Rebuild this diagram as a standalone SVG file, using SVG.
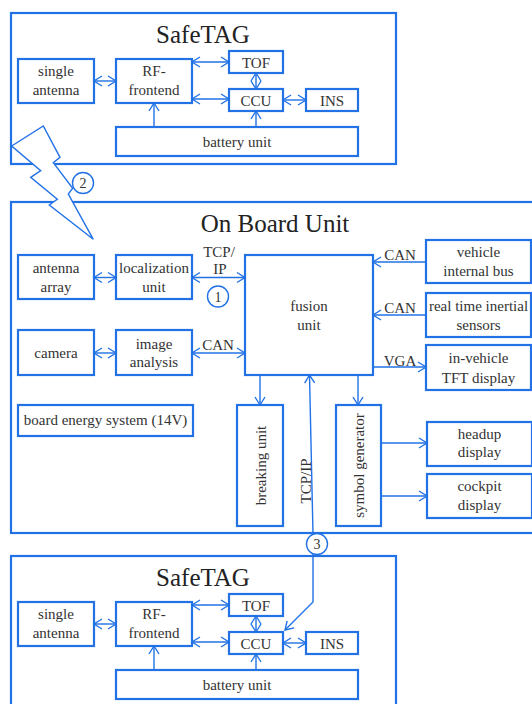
<svg xmlns="http://www.w3.org/2000/svg" width="532" height="704" viewBox="0 0 532 704" font-family="'Liberation Serif', 'Times New Roman', serif">
<style>
.outer{fill:#fff;stroke:#2272e6;stroke-width:2.2}
.box{fill:#fff;stroke:#2272e6;stroke-width:2.2}
.ln{fill:none;stroke:#2272e6;stroke-width:1.4}
text{font-family:'Liberation Serif','Times New Roman',serif;fill:#333;font-size:15px;text-anchor:middle}
.title{font-size:25px;fill:#222}
.num{font-size:14px}
.circ{fill:#fff;stroke:#2272e6;stroke-width:1.4}
</style>
<defs>
<marker id="ah" viewBox="-2 -7 12 14" refX="8" refY="0" markerWidth="12" markerHeight="14" markerUnits="userSpaceOnUse" orient="auto-start-reverse">
<path d="M0,-5 L8,0 L0,5" fill="none" stroke="#2272e6" stroke-width="1.4"/>
</marker>
</defs>

<g id="safetag-top">
<rect class="outer" x="11" y="13" width="385" height="151"/>
<text class="title" x="203" y="43">SafeTAG</text>
<g id="t-single-antenna"><rect class="box" x="18" y="59" width="76" height="44"/>
<text x="56" y="76">single</text><text x="56" y="95">antenna</text></g>
<g id="t-rf-frontend"><rect class="box" x="116" y="59" width="76" height="44"/>
<text x="154" y="76">RF-</text><text x="154" y="95">frontend</text></g>
<g id="t-tof"><rect class="box" x="229" y="51" width="54" height="22"/>
<text x="256" y="68">TOF</text></g>
<g id="t-ccu"><rect class="box" x="229" y="89" width="54" height="22"/>
<text x="256" y="106">CCU</text></g>
<g id="t-ins"><rect class="box" x="306" y="89" width="52" height="22"/>
<text x="332" y="106">INS</text></g>
<g id="t-battery"><rect class="box" x="116" y="127" width="242" height="29"/>
<text x="237" y="147">battery unit</text></g>
<g id="t-connectors">
<line class="ln" x1="94" y1="81" x2="116" y2="81" marker-start="url(#ah)" marker-end="url(#ah)"/>
<line class="ln" x1="192" y1="62" x2="229" y2="62" marker-start="url(#ah)" marker-end="url(#ah)"/>
<line class="ln" x1="192" y1="99" x2="229" y2="99" marker-start="url(#ah)" marker-end="url(#ah)"/>
<line class="ln" x1="256" y1="73" x2="256" y2="89" marker-start="url(#ah)" marker-end="url(#ah)"/>
<line class="ln" x1="283" y1="100" x2="306" y2="100" marker-start="url(#ah)" marker-end="url(#ah)"/>
<line class="ln" x1="154" y1="127" x2="154" y2="103" marker-end="url(#ah)"/>
<line class="ln" x1="256" y1="127" x2="256" y2="111" marker-end="url(#ah)"/>
</g>
</g>

<g id="safetag-bottom" transform="translate(0,543)">
<rect class="outer" x="11" y="13" width="385" height="151"/>
<text class="title" x="203" y="43">SafeTAG</text>
<g id="b-single-antenna"><rect class="box" x="18" y="59" width="76" height="44"/>
<text x="56" y="76">single</text><text x="56" y="95">antenna</text></g>
<g id="b-rf-frontend"><rect class="box" x="116" y="59" width="76" height="44"/>
<text x="154" y="76">RF-</text><text x="154" y="95">frontend</text></g>
<g id="b-tof"><rect class="box" x="229" y="51" width="54" height="22"/>
<text x="256" y="68">TOF</text></g>
<g id="b-ccu"><rect class="box" x="229" y="89" width="54" height="22"/>
<text x="256" y="106">CCU</text></g>
<g id="b-ins"><rect class="box" x="306" y="89" width="52" height="22"/>
<text x="332" y="106">INS</text></g>
<g id="b-battery"><rect class="box" x="116" y="127" width="242" height="29"/>
<text x="237" y="147">battery unit</text></g>
<g id="b-connectors">
<line class="ln" x1="94" y1="81" x2="116" y2="81" marker-start="url(#ah)" marker-end="url(#ah)"/>
<line class="ln" x1="192" y1="62" x2="229" y2="62" marker-start="url(#ah)" marker-end="url(#ah)"/>
<line class="ln" x1="192" y1="99" x2="229" y2="99" marker-start="url(#ah)" marker-end="url(#ah)"/>
<line class="ln" x1="256" y1="73" x2="256" y2="89" marker-start="url(#ah)" marker-end="url(#ah)"/>
<line class="ln" x1="283" y1="100" x2="306" y2="100" marker-start="url(#ah)" marker-end="url(#ah)"/>
<line class="ln" x1="154" y1="127" x2="154" y2="103" marker-end="url(#ah)"/>
<line class="ln" x1="256" y1="127" x2="256" y2="111" marker-end="url(#ah)"/>
</g>
</g>

<g id="obu">
<rect class="outer" x="11" y="202" width="532" height="331"/>
<text class="title" x="275" y="232">On Board Unit</text>
</g>
<g id="antenna-array"><rect class="box" x="18" y="255" width="76" height="44"/>
<text x="56" y="272.5">antenna</text><text x="56" y="291.5">array</text></g>
<g id="localization-unit"><rect class="box" x="116" y="255" width="76" height="44"/>
<text x="154" y="272.5">localization</text><text x="154" y="291.5">unit</text></g>
<g id="camera"><rect class="box" x="18" y="330" width="76" height="45"/>
<text x="56" y="358">camera</text></g>
<g id="image-analysis"><rect class="box" x="116" y="330" width="76" height="45"/>
<text x="154" y="348.5">image</text><text x="154" y="367">analysis</text></g>
<g id="fusion-unit"><rect class="box" x="245" y="255" width="128" height="120"/>
<text x="309" y="311">fusion</text><text x="309" y="330">unit</text></g>
<g id="vehicle-bus"><rect class="box" x="426" y="240" width="105" height="43"/>
<text x="478.5" y="257">vehicle</text><text x="478.5" y="276">internal bus</text></g>
<g id="inertial-sensors"><rect class="box" x="426" y="293" width="105" height="44"/>
<text x="478.5" y="310.5">real time inertial</text><text x="478.5" y="329.5">sensors</text></g>
<g id="tft-display"><rect class="box" x="426" y="345" width="105" height="45"/>
<text x="478.5" y="363">in-vehicle</text><text x="478.5" y="382.5">TFT display</text></g>
<g id="board-energy"><rect class="box" x="18" y="405" width="175" height="31"/>
<text x="105.5" y="425">board energy system (14V)</text></g>
<g id="breaking-unit"><rect class="box" x="237" y="405" width="46" height="121"/>
<text transform="translate(260,465.5) rotate(-90)" x="0" y="5.5">breaking unit</text></g>
<g id="symbol-generator"><rect class="box" x="336" y="405" width="45" height="121"/>
<text transform="translate(358.5,465.5) rotate(-90)" x="0" y="5.5">symbol generator</text></g>
<g id="headup-display"><rect class="box" x="427" y="422" width="105" height="44"/>
<text x="479.5" y="438.5">headup</text><text x="479.5" y="457">display</text></g>
<g id="cockpit-display"><rect class="box" x="427" y="474" width="105" height="44"/>
<text x="479.5" y="491">cockpit</text><text x="479.5" y="510">display</text></g>

<g id="connectors">
<line class="ln" x1="94" y1="277.5" x2="116" y2="277.5" marker-start="url(#ah)" marker-end="url(#ah)"/>
<line class="ln" x1="192" y1="277.5" x2="245" y2="277.5" marker-start="url(#ah)" marker-end="url(#ah)"/>
<line class="ln" x1="94" y1="353" x2="116" y2="353" marker-start="url(#ah)" marker-end="url(#ah)"/>
<line class="ln" x1="192" y1="353" x2="245" y2="353" marker-start="url(#ah)" marker-end="url(#ah)"/>
<line class="ln" x1="426" y1="262" x2="373" y2="262" marker-end="url(#ah)"/>
<line class="ln" x1="426" y1="315" x2="373" y2="315" marker-end="url(#ah)"/>
<line class="ln" x1="373" y1="367" x2="426" y2="367" marker-end="url(#ah)"/>
<line class="ln" x1="260" y1="375" x2="260" y2="405" marker-end="url(#ah)"/>
<line class="ln" x1="358" y1="375" x2="358" y2="405" marker-end="url(#ah)"/>
<line class="ln" x1="381" y1="443" x2="427" y2="443" marker-end="url(#ah)"/>
<line class="ln" x1="381" y1="496" x2="427" y2="496" marker-end="url(#ah)"/>
<polyline class="ln" points="309.5,375 313,534 313,602 285,630" marker-start="url(#ah)" marker-end="url(#ah)"/>
<text x="219" y="256.5">TCP/</text>
<text x="220" y="274">IP</text>
<text x="218" y="350">CAN</text>
<text x="400" y="260">CAN</text>
<text x="400" y="313">CAN</text>
<text x="400" y="365.5">VGA</text>
<text transform="translate(310.5,481) rotate(-90)" x="0" y="0">TCP/IP</text>
<circle class="circ" cx="218" cy="296.5" r="10.5"/><text class="num" x="218" y="301.5">1</text>
<circle class="circ" cx="317" cy="544" r="10.5"/><text class="num" x="317" y="549">3</text>
<polygon class="ln" style="fill:#fff" points="11.7,146 43.3,126 60,157.3 53.3,162.7 72.7,188.3 68.3,194 93.3,239.3 49.3,205 57.3,199.3 30.7,177.3 40.7,170.7"/>
<circle class="circ" cx="83" cy="183" r="10.5"/><text class="num" x="83" y="188">2</text>
</g>
</svg>
